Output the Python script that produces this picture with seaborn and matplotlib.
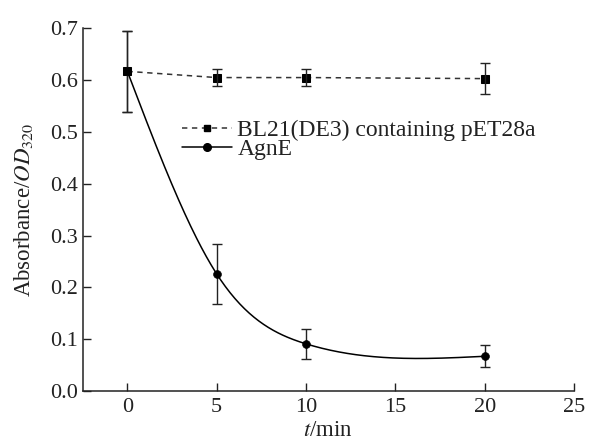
import matplotlib
matplotlib.use("Agg")
import matplotlib.pyplot as plt
import numpy as np
import seaborn as sns
from matplotlib.lines import Line2D

# 数据
time_min = [0, 5, 10, 20]
bl21_mean = [0.617, 0.605, 0.605, 0.603]
bl21_err = [0.078, 0.017, 0.016, 0.030]
agne_mean = [0.617, 0.226, 0.091, 0.067]
agne_err = [0.078, 0.058, 0.029, 0.021]


# 自然三次样条，用于画平滑曲线
def natural_spline(x, y, xs):
    x = np.asarray(x, float)
    y = np.asarray(y, float)
    n = len(x)
    h = np.diff(x)
    A = np.zeros((n, n))
    b = np.zeros(n)
    A[0, 0] = 1
    A[-1, -1] = 1
    for i in range(1, n - 1):
        A[i, i - 1] = h[i - 1]
        A[i, i] = 2 * (h[i - 1] + h[i])
        A[i, i + 1] = h[i]
        b[i] = 6 * ((y[i + 1] - y[i]) / h[i] - (y[i] - y[i - 1]) / h[i - 1])
    m = np.linalg.solve(A, b)
    out = np.zeros_like(xs)
    for k, t in enumerate(xs):
        i = min(np.searchsorted(x, t, side='right') - 1, n - 2)
        i = max(i, 0)
        a = x[i + 1] - t
        c = t - x[i]
        out[k] = (m[i] * a ** 3 + m[i + 1] * c ** 3) / (6 * h[i]) \
            + (y[i] / h[i] - m[i] * h[i] / 6) * a \
            + (y[i + 1] / h[i] - m[i + 1] * h[i] / 6) * c
    return out


sns.set_style("ticks")
plt.rcParams['font.family'] = ['Liberation Serif', 'DejaVu Serif']
plt.rcParams['mathtext.fontset'] = 'stix'
plt.rcParams['xtick.direction'] = 'in'
plt.rcParams['ytick.direction'] = 'in'

fig = plt.figure(figsize=(5.89, 4.43), dpi=100)
ax = fig.add_axes([0.1404, 0.1174, 0.8341, 0.8186])

dash = (0, (3.5, 3))
# BL21 虚线
sns.lineplot(x=time_min, y=bl21_mean, ax=ax, color='#333333', linestyle=dash,
             linewidth=1.1, marker='s', markersize=5.5, markerfacecolor='black',
             markeredgecolor='black')
ax.errorbar(time_min, bl21_mean, yerr=bl21_err, fmt='none', ecolor='#222222',
            elinewidth=1, capsize=3.5, capthick=1)

# AgnE 平滑曲线
xs = np.linspace(time_min[0], time_min[-1], 300)
sns.lineplot(x=xs, y=natural_spline(time_min, agne_mean, xs), ax=ax, color='black',
             linewidth=1.1)
sns.scatterplot(x=time_min, y=agne_mean, ax=ax, color='black', marker='o', s=32,
                edgecolor='black', zorder=5)
ax.errorbar(time_min, agne_mean, yerr=agne_err, fmt='none', ecolor='#222222',
            elinewidth=1, capsize=3.5, capthick=1)

ax.set_xlim(-2.5, 25)
ax.set_ylim(0, 0.7)
ax.set_xticks([0, 5, 10, 15, 20, 25])
ax.set_yticks(np.arange(0, 0.71, 0.1))
ax.yaxis.set_major_formatter(matplotlib.ticker.FormatStrFormatter('%.1f'))
ax.tick_params(labelsize=16, length=6, width=1, color='#222222', labelcolor='#222222')
ax.tick_params(axis='x', pad=5)
for s in ['left', 'bottom']:
    ax.spines[s].set_linewidth(1.1)
    ax.spines[s].set_color('#222222')
sns.despine(ax=ax)

ax.set_xlabel('$t$/min', fontsize=16.5, color='#222222', labelpad=2)
ax.set_ylabel('Absorbance/$OD_{320}$', fontsize=16.5, color='#222222', labelpad=11)

h1 = Line2D([], [], color='#333333', linestyle=dash, linewidth=1.1, marker='s',
            markersize=5, markerfacecolor='black', markeredgecolor='black')
h2 = Line2D([], [], color='black', linewidth=1.1, marker='o', markersize=5.5,
            markerfacecolor='black')
ax.legend([h1, h2], ['BL21(DE3) containing pET28a', 'AgnE'], loc='upper left',
          bbox_to_anchor=(0.202, 0.748), frameon=False, fontsize=17, handlelength=2.1,
          handletextpad=0.25, labelspacing=-0.1, borderpad=0, borderaxespad=0,
          labelcolor='#222222')

fig.savefig('out.png', dpi=100)
